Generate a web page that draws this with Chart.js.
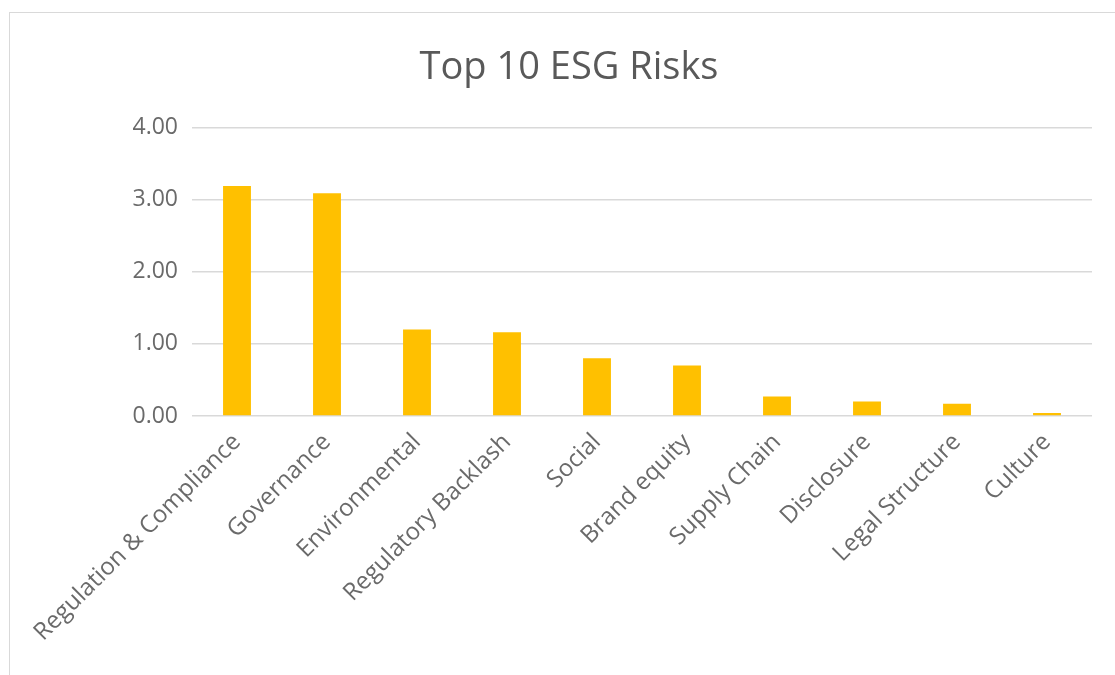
<!DOCTYPE html>
<html>
<head>
<meta charset="utf-8">
<script src="https://cdn.jsdelivr.net/npm/chart.js@4"></script>
<style>
  html, body { margin: 0; padding: 0; background: #fff; }
  #box {
    position: absolute;
    left: 9px;
    top: 12px;
    width: 1106px;
    height: 663px;
    border-left: 1px solid #d9d9d9;
    border-top: 1px solid #d9d9d9;
  }
</style>
</head>
<body>
<div id="box"><canvas id="grafico"></canvas></div>
<script>
const categorias = [
  "Regulation & Compliance",
  "Governance",
  "Environmental",
  "Regulatory Backlash",
  "Social",
  "Brand equity",
  "Supply Chain",
  "Disclosure",
  "Legal Structure",
  "Culture",
];
const valores = [3.19, 3.09, 1.2, 1.16, 0.8, 0.7, 0.27, 0.2, 0.17, 0.04];
const ticksY = [0, 1, 2, 3, 4];

const ctx = document.getElementById("grafico").getContext("2d");
const fuente = "'Open Sans', sans-serif";

let myChart = new Chart(ctx, {
  type: "bar",
  data: {
    labels: categorias,
    datasets: [
      {
        label: "Top 10 ESG Risks",
        data: valores,
        backgroundColor: "#FFC000",
        borderWidth: 0,
        barPercentage: 0.31,
        categoryPercentage: 1,
      },
    ],
  },
  options: {
    responsive: true,
    maintainAspectRatio: false,
    animation: false,
    layout: { padding: { left: 36, right: 24, top: 0, bottom: 0 } },
    plugins: {
      legend: { display: false },
      tooltip: { enabled: false },
      title: {
        display: true,
        text: "Top 10 ESG Risks",
        color: "#595959",
        font: { family: fuente, size: 38, weight: "normal" },
        padding: { top: 32, bottom: 37 },
      },
    },
    scales: {
      x: {
        grid: { display: false, drawTicks: false },
        border: { display: false },
        ticks: {
          color: "#6a6a6a",
          font: { family: fuente, size: 24 },
          minRotation: 45,
          maxRotation: 45,
          padding: 12,
          autoSkip: false,
        },
        afterFit: (scale) => {
          scale.height = 260;
        },
      },
      y: {
        min: 0,
        max: 4,
        afterBuildTicks: (scale) => {
          scale.ticks = ticksY.map((v) => ({ value: v }));
        },
        grid: { color: "#d9d9d9", lineWidth: 1.5, drawTicks: false },
        border: { display: false },
        ticks: {
          color: "#6a6a6a",
          font: { family: fuente, size: 23 },
          padding: 14,
          callback: (v) => v.toFixed(2),
        },
        afterFit: (scale) => {
          scale.width = 146;
        },
      },
    },
  },
});
</script>
</body>
</html>
